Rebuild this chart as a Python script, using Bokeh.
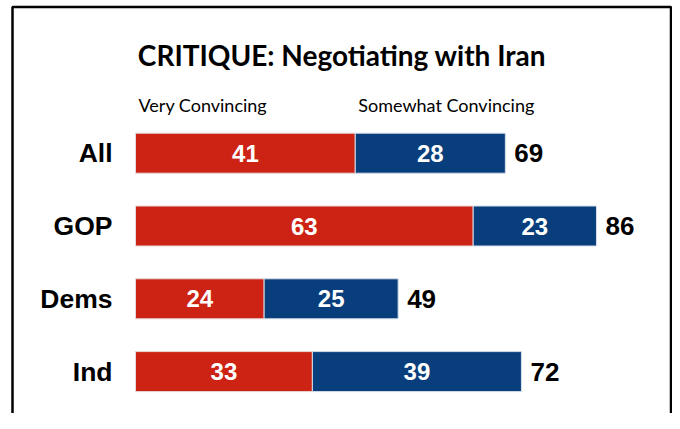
from bokeh.plotting import figure
from bokeh.models import Range1d
from bokeh.core.properties import value
from bokeh.embed import file_html
from bokeh.resources import INLINE

# ---- data ----
groups = ["All", "GOP", "Dems", "Ind"]
very = [41, 63, 24, 33]
somewhat = [28, 23, 25, 39]
title_text = "CRITIQUE: Negotiating with Iran"
series_names = ["Very Convincing", "Somewhat Convincing"]

totals = [v + s for v, s in zip(very, somewhat)]
rows = list(range(len(groups)))

RED = "#CC2314"
BLUE = "#073E7B"

W, H = 672, 413
SX = 5.36      # px per percentage point
X0 = 135.0     # canvas px of value 0
SY = 72.8      # px per row
Y0 = 152.7     # canvas px of first row centre


def dx(cx):
    return (cx - X0) / SX


def dy(cy):
    return (cy - Y0) / SY


p = figure(width=W, height=H, output_backend="svg", toolbar_location=None,
           x_range=Range1d(dx(0), dx(W)), y_range=Range1d(dy(H), dy(0)),
           min_border=0)
p.axis.visible = False
p.grid.visible = False
p.outline_line_color = None
p.background_fill_color = "white"
p.border_fill_color = "white"

bh = 40 / SY
p.hbar(y=rows, left=0, right=very, height=bh, fill_color=RED,
       line_color="#e6d8d6", line_width=1)
p.hbar(y=rows, left=very, right=totals, height=bh, fill_color=BLUE,
       line_color="#d6dde8", line_width=1)

# in-bar labels
p.text(x=[v / 2 for v in very], y=rows, text=[str(v) for v in very],
       text_align="center", text_baseline="middle", text_color="white",
       text_font=value("Liberation Sans"), text_font_style="bold",
       text_font_size="24px")
p.text(x=[v + s / 2 for v, s in zip(very, somewhat)], y=rows,
       text=[str(s) for s in somewhat],
       text_align="center", text_baseline="middle", text_color="white",
       text_font=value("Liberation Sans"), text_font_style="bold",
       text_font_size="24px")

# totals
p.text(x=totals, y=rows, text=[str(t) for t in totals], x_offset=9,
       text_align="left", text_baseline="middle", text_color="black",
       text_font=value("Liberation Sans"), text_font_style="bold",
       text_font_size="26px")

# category labels
p.text(x=[0] * len(groups), y=rows, text=groups, x_offset=-23,
       text_align="right", text_baseline="middle", text_color="black",
       text_font=value("Liberation Sans"), text_font_style="bold",
       text_font_size="26.5px")

# series headers
p.text(x=[0, very[0]], y=[dy(104)] * 2, text=series_names, x_offset=3,
       text_align="left", text_baseline="middle", text_color="black",
       text_font=value("Lato"), text_font_size="18px")

# title
p.text(x=[dx(341.5)], y=[dy(54)], text=[title_text],
       text_align="center", text_baseline="middle", text_color="black",
       text_font=value("Lato"), text_font_style="bold",
       text_font_size="28px")

# frame
p.line(x=[dx(12), dx(12), dx(670.5), dx(670.5)],
       y=[dy(H + 20), dy(6.5), dy(6.5), dy(H + 20)],
       line_color="black", line_width=2.5)

open("out.html", "w").write(file_html(p, INLINE))
